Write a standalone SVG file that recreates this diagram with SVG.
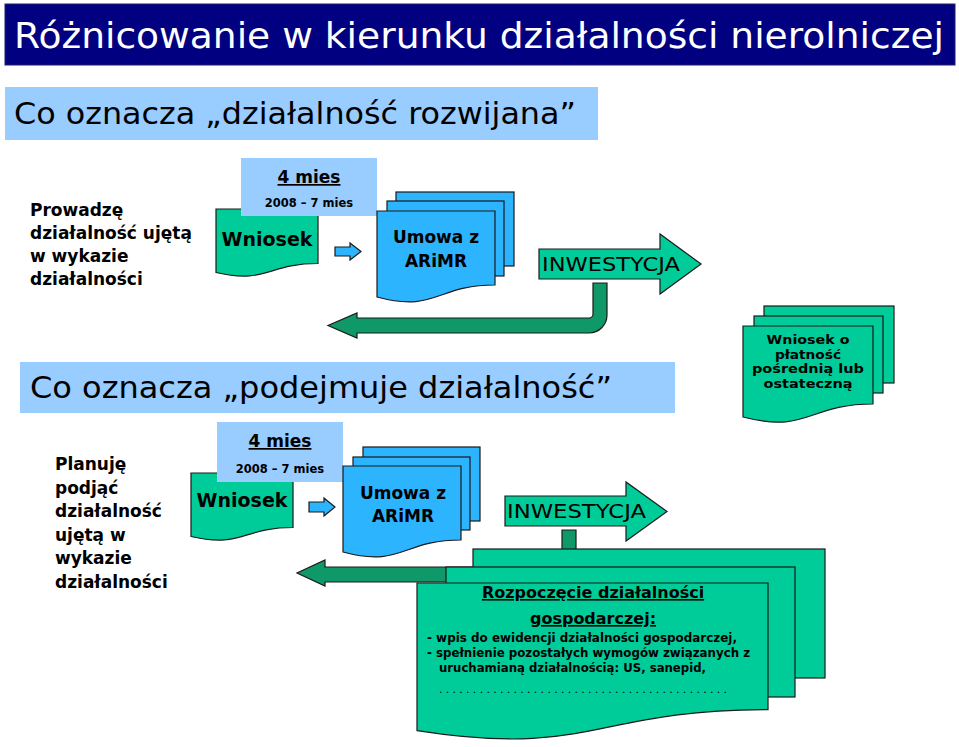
<svg xmlns="http://www.w3.org/2000/svg" width="959" height="747" viewBox="0 0 959 747">
<style>
text{font-family:"DejaVu Sans","Liberation Sans",sans-serif;fill:#000}
.b{font-weight:bold}
.c{text-anchor:middle}
.green{fill:#00CC99;stroke:#1a1a1a;stroke-width:1.2}
.blue{fill:#2DB4FF;stroke:#1a1a1a;stroke-width:1.2}
.dark{fill:#0F9868;stroke:#1a1a1a;stroke-width:1.2}
.lb{fill:#99CCFF}
.u{text-decoration:underline}
</style>
<rect width="959" height="747" fill="#fff"/>

<g id="connectors">
  <path class="blue" d="M335,247 H350 V243 L361,251.5 L350,260 V256 H335 Z"/>
  <path class="blue" d="M309,502 H324 V498 L335,507 L324,516 V512 H309 Z"/>
  <path class="dark" d="M593,283 H607 V315 A18,18 0 0 1 589,333 H357 V338 L328,325.5 L357,313 V318 H589 A4,4 0 0 0 593,314 Z"/>
  <path class="dark" d="M562,530 H576 V564 A18,18 0 0 1 558,582 H325 V586 L297,573 L325,560 V567 H558 A4,4 0 0 0 562,563 Z"/>
</g>

<g id="title">
  <rect x="5" y="4" width="950" height="61" fill="#000080" stroke="#202060" stroke-width="1"/>
  <text x="14" y="48" font-size="36" textLength="930" lengthAdjust="spacingAndGlyphs" style="fill:#fff">Różnicowanie w kierunku działalności nierolniczej</text>
</g>

<g id="header1">
  <rect class="lb" x="5" y="87" width="593" height="53"/>
  <text x="14" y="124" font-size="30" textLength="562" lengthAdjust="spacingAndGlyphs">Co oznacza „działalność rozwijana”</text>
</g>

<g id="label1">
  <text class="b" font-size="17"><tspan x="30" y="216">Prowadzę</tspan><tspan x="30" y="239">działalność ujętą</tspan><tspan x="30" y="262">w wykazie</tspan><tspan x="30" y="285">działalności</tspan></text>
</g>

<g id="wniosek1">
  <path class="green" d="M216,209 H318 V263.5 C267,263.5 267,284.3 216,272.5 Z"/>
  <text class="b c" x="267" y="246" font-size="19">Wniosek</text>
</g>

<g id="czas1">
  <rect class="lb" x="241" y="158" width="136" height="58"/>
  <text class="b c u" x="309" y="183" font-size="17">4 mies</text>
  <text class="b c" x="309" y="207" font-size="11.5">2008 – 7 mies</text>
</g>

<g id="umowa1">
  <rect class="blue" x="396" y="192" width="118" height="74"/>
  <rect class="blue" x="387" y="201" width="117" height="75"/>
  <path class="blue" d="M377,211 H495 V285 C436,285 436,312.9 377,297 Z"/>
  <text class="b c" x="436" y="243" font-size="17">Umowa z</text>
  <text class="b c" x="436" y="267" font-size="17">ARiMR</text>
</g>

<g id="inwestycja1">
  <path class="green" d="M539,249 H660 V234 L701,264 L660,294 V279 H539 Z"/>
  <text x="542" y="271" font-size="19" textLength="138" lengthAdjust="spacingAndGlyphs">INWESTYCJA</text>
</g>

<g id="header2">
  <rect class="lb" x="20" y="362" width="655" height="51"/>
  <text x="30" y="398" font-size="30" textLength="582" lengthAdjust="spacingAndGlyphs">Co oznacza „podejmuje działalność”</text>
</g>

<g id="platnosc">
  <rect class="green" x="764" y="306" width="130" height="77"/>
  <rect class="green" x="754" y="316" width="129" height="77"/>
  <path class="green" d="M743,326 H873 V404 C808,404 808,433.8 743,417 Z"/>
  <text class="b c" x="808" y="344" font-size="12.2" textLength="83" lengthAdjust="spacingAndGlyphs">Wniosek o</text>
  <text class="b c" x="808" y="358.5" font-size="12.2" textLength="66" lengthAdjust="spacingAndGlyphs">płatność</text>
  <text class="b c" x="808" y="373" font-size="12.2" textLength="112" lengthAdjust="spacingAndGlyphs">pośrednią lub</text>
  <text class="b c" x="808" y="387.5" font-size="12.2" textLength="89" lengthAdjust="spacingAndGlyphs">ostateczną</text>
</g>

<g id="label2">
  <text class="b" font-size="17"><tspan x="55" y="470">Planuję</tspan><tspan x="55" y="493.6">podjąć</tspan><tspan x="55" y="517.2">działalność</tspan><tspan x="55" y="540.8">ujętą w</tspan><tspan x="55" y="564.4">wykazie</tspan><tspan x="55" y="588">działalności</tspan></text>
</g>

<g id="wniosek2">
  <path class="green" d="M191,473 H293 V527.5 C242,527.5 242,548.3 191,536.5 Z"/>
  <text class="b c" x="242" y="507" font-size="19">Wniosek</text>
</g>

<g id="czas2">
  <rect class="lb" x="217" y="422" width="126" height="60"/>
  <text class="b c u" x="280" y="447" font-size="17">4 mies</text>
  <text class="b c" x="280" y="473" font-size="11.5">2008 – 7 mies</text>
</g>

<g id="umowa2">
  <rect class="blue" x="363" y="447" width="117" height="74"/>
  <rect class="blue" x="353" y="457" width="117" height="73"/>
  <path class="blue" d="M343,466 H461 V540 C402,540 402,567.9 343,552 Z"/>
  <text class="b c" x="403" y="499" font-size="17">Umowa z</text>
  <text class="b c" x="403" y="522" font-size="17">ARiMR</text>
</g>

<g id="inwestycja2">
  <path class="green" d="M505,496 H626 V482 L667,511.5 L626,541 V526 H505 Z"/>
  <text x="507" y="518" font-size="19" textLength="139" lengthAdjust="spacingAndGlyphs">INWESTYCJA</text>
</g>

<g id="rozpoczecie">
  <rect class="green" x="473" y="549" width="352" height="129"/>
  <rect class="green" x="446" y="567" width="349" height="130"/>
  <path class="green" d="M417,583 H768 V709.7 C592.5,709.7 592.5,758 417,730.6 Z"/>
  <text class="b c u" x="593" y="598" font-size="16">Rozpoczęcie działalności</text>
  <text class="b c u" x="593" y="624" font-size="16">gospodarczej:</text>
  <text class="b" x="427" y="642" font-size="12.5" textLength="310" lengthAdjust="spacingAndGlyphs">- wpis do ewidencji działalności gospodarczej,</text>
  <text class="b" x="427" y="657" font-size="12.5" textLength="323" lengthAdjust="spacingAndGlyphs">- spełnienie pozostałych wymogów związanych z</text>
  <text class="b" x="439" y="672" font-size="12.5" textLength="267" lengthAdjust="spacingAndGlyphs">uruchamianą działalnością: US, sanepid,</text>
  <text x="439" y="693" font-size="11" textLength="288" lengthAdjust="spacing">...........................................</text>
</g>
</svg>
